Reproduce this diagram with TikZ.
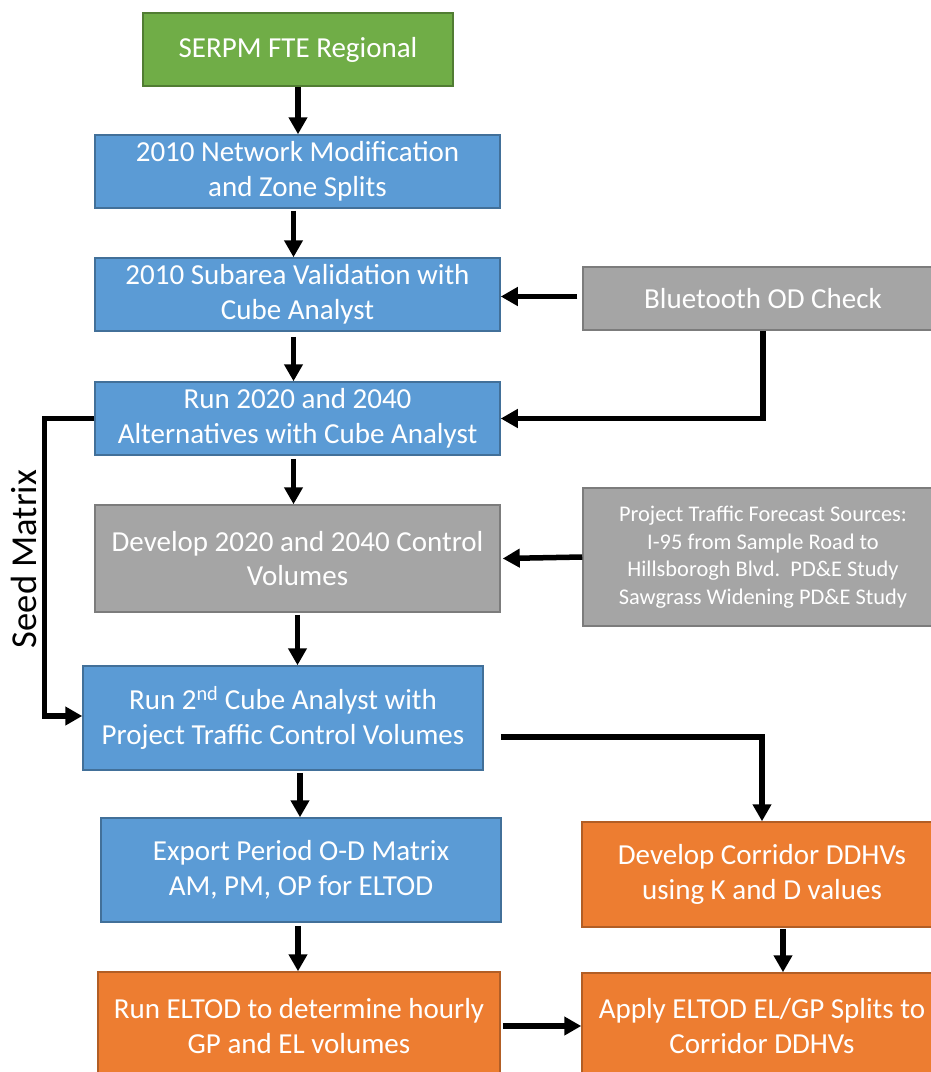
\documentclass[tikz,border=0pt]{standalone}
\usepackage{fontspec}
\setmainfont{Carlito}
\usepackage{tikz}
\usetikzlibrary{positioning,arrows.meta,calc}
\definecolor{serpm}{HTML}{70AD47}
\definecolor{cube}{HTML}{5B9BD5}
\definecolor{check}{HTML}{A5A5A5}
\definecolor{eltod}{HTML}{ED7D31}

\begin{document}
\begin{tikzpicture}[x=1pt, y=-1pt,
        procbox/.style={rectangle, line width=1.5pt, text=white,
        align=center, inner sep=0pt, font=\fontsize{29}{34.5}\selectfont},
        greenbox/.style={procbox, draw=serpm!72!black, fill=serpm},
        bluebox/.style={procbox, draw=cube!72!black, fill=cube},
        greybox/.style={procbox, draw=check!75!black, fill=check},
        orangebox/.style={procbox, draw=eltod!75!black, fill=eltod},
        flow/.style={-{Triangle[width=18pt, length=17pt]}, line width=5.5pt},
      ]
      \useasboundingbox (0,0) rectangle (931,1072);
      \clip (0,0) rectangle (931,1072);

      % Main column: regional model down to the subarea runs
      \node[greenbox, minimum width=310pt, minimum height=73pt] (serpm) at (298, 49.5)
      {SERPM FTE Regional};
      \node[bluebox, minimum width=405pt, minimum height=73pt] (network) at (297.5, 171.5)
      {2010 Network Modification\\and Zone Splits};
      \node[bluebox, minimum width=405pt, minimum height=73pt] (subarea) at (297.5, 294.5)
      {2010 Subarea Validation with\\Cube Analyst};
      \node[bluebox, minimum width=405pt, minimum height=73pt] (alts) at (297.5, 418.5)
      {Run 2020 and 2040\\Alternatives with Cube Analyst};
      \node[greybox, minimum width=405pt, minimum height=107pt] (control) at (297.5, 558.5)
      {Develop 2020 and 2040 Control\\Volumes};
      \node[bluebox, minimum width=400pt, minimum height=104pt] (rerun) at (283, 718)
      {Run 2\textsuperscript{nd} Cube Analyst with\\Project Traffic Control Volumes};
      \node[bluebox, minimum width=400pt, minimum height=104pt] (export) at (301, 870)
      {Export Period O-D Matrix\\AM, PM, OP for ELTOD};
      \node[orangebox, minimum width=402pt, minimum height=108pt] (eltod) at (299, 1026)
      {Run ELTOD to determine hourly\\GP and EL volumes};

      % Right column: outside inputs and corridor volumes
      \node[greybox, minimum width=360pt, minimum height=63pt] (bluetooth) at (763, 298.5)
      {Bluetooth OD Check};
      \node[greybox, minimum width=360pt, minimum height=138pt,
      font=\fontsize{22.4}{27.5}\selectfont] (sources) at (763, 557)
      {Project Traffic Forecast Sources:\\I-95 from Sample Road to\\Hillsborogh Blvd.\ \ PD\&E Study\\Sawgrass Widening PD\&E Study};
      \node[orangebox, minimum width=360pt, minimum height=105pt] (corridor) at (762, 874.5)
      {Develop Corridor DDHVs\\using K and D values};
      \node[orangebox, minimum width=360pt, minimum height=106pt] (apply) at (762, 1026)
      {Apply ELTOD EL/GP Splits to\\Corridor DDHVs};

      \node[rotate=90, font=\fontsize{36.5}{40}\selectfont] (seedlbl) at (24, 559) {Seed Matrix};

      % Connectors
      \draw[flow] (serpm.south) -- (network.north -| serpm.south);
      \draw[flow] ($(network.south)+(-4,2)$) -- ($(subarea.north)+(-4,0)$);
      \draw[flow] ($(bluetooth.west)+(-5,-2)$) -- (subarea.east |- {$(bluetooth.west)+(0,-2)$});
      \draw[flow] ($(subarea.south)+(-4,5)$) -- ($(alts.north)+(-4,0)$);
      \draw[flow] (bluetooth.south) |- (alts.east);
      \draw[flow] ($(alts.south)+(-4,3)$) -- ($(control.north)+(-4,0)$);
      \draw[flow] (sources.west) -- ($(control.east)+(2,0)$);
      \draw[flow] ($(control.south)+(0,2)$) -- (rerun.north -| control.south);
      \draw[flow] (alts.west) -- ++(-50,0) |- ($(rerun.west)+(0,-2)$);
      \draw[flow] ($(rerun.east)+(17,19)$) -| (corridor.north);
      \draw[flow] ($(rerun.south)+(17,2)$) -- ($(export.north)+(-1,0)$);
      \draw[flow] ($(export.south)+(-3,3)$) -- ($(eltod.north)+(-1,0)$);
      \draw[flow] ($(corridor.south)+(21,1)$) -- ($(apply.north)+(21,0)$);
      \draw[flow] ($(eltod.east)+(2,0)$) -- (apply.west);
    \end{tikzpicture}
\end{document}
